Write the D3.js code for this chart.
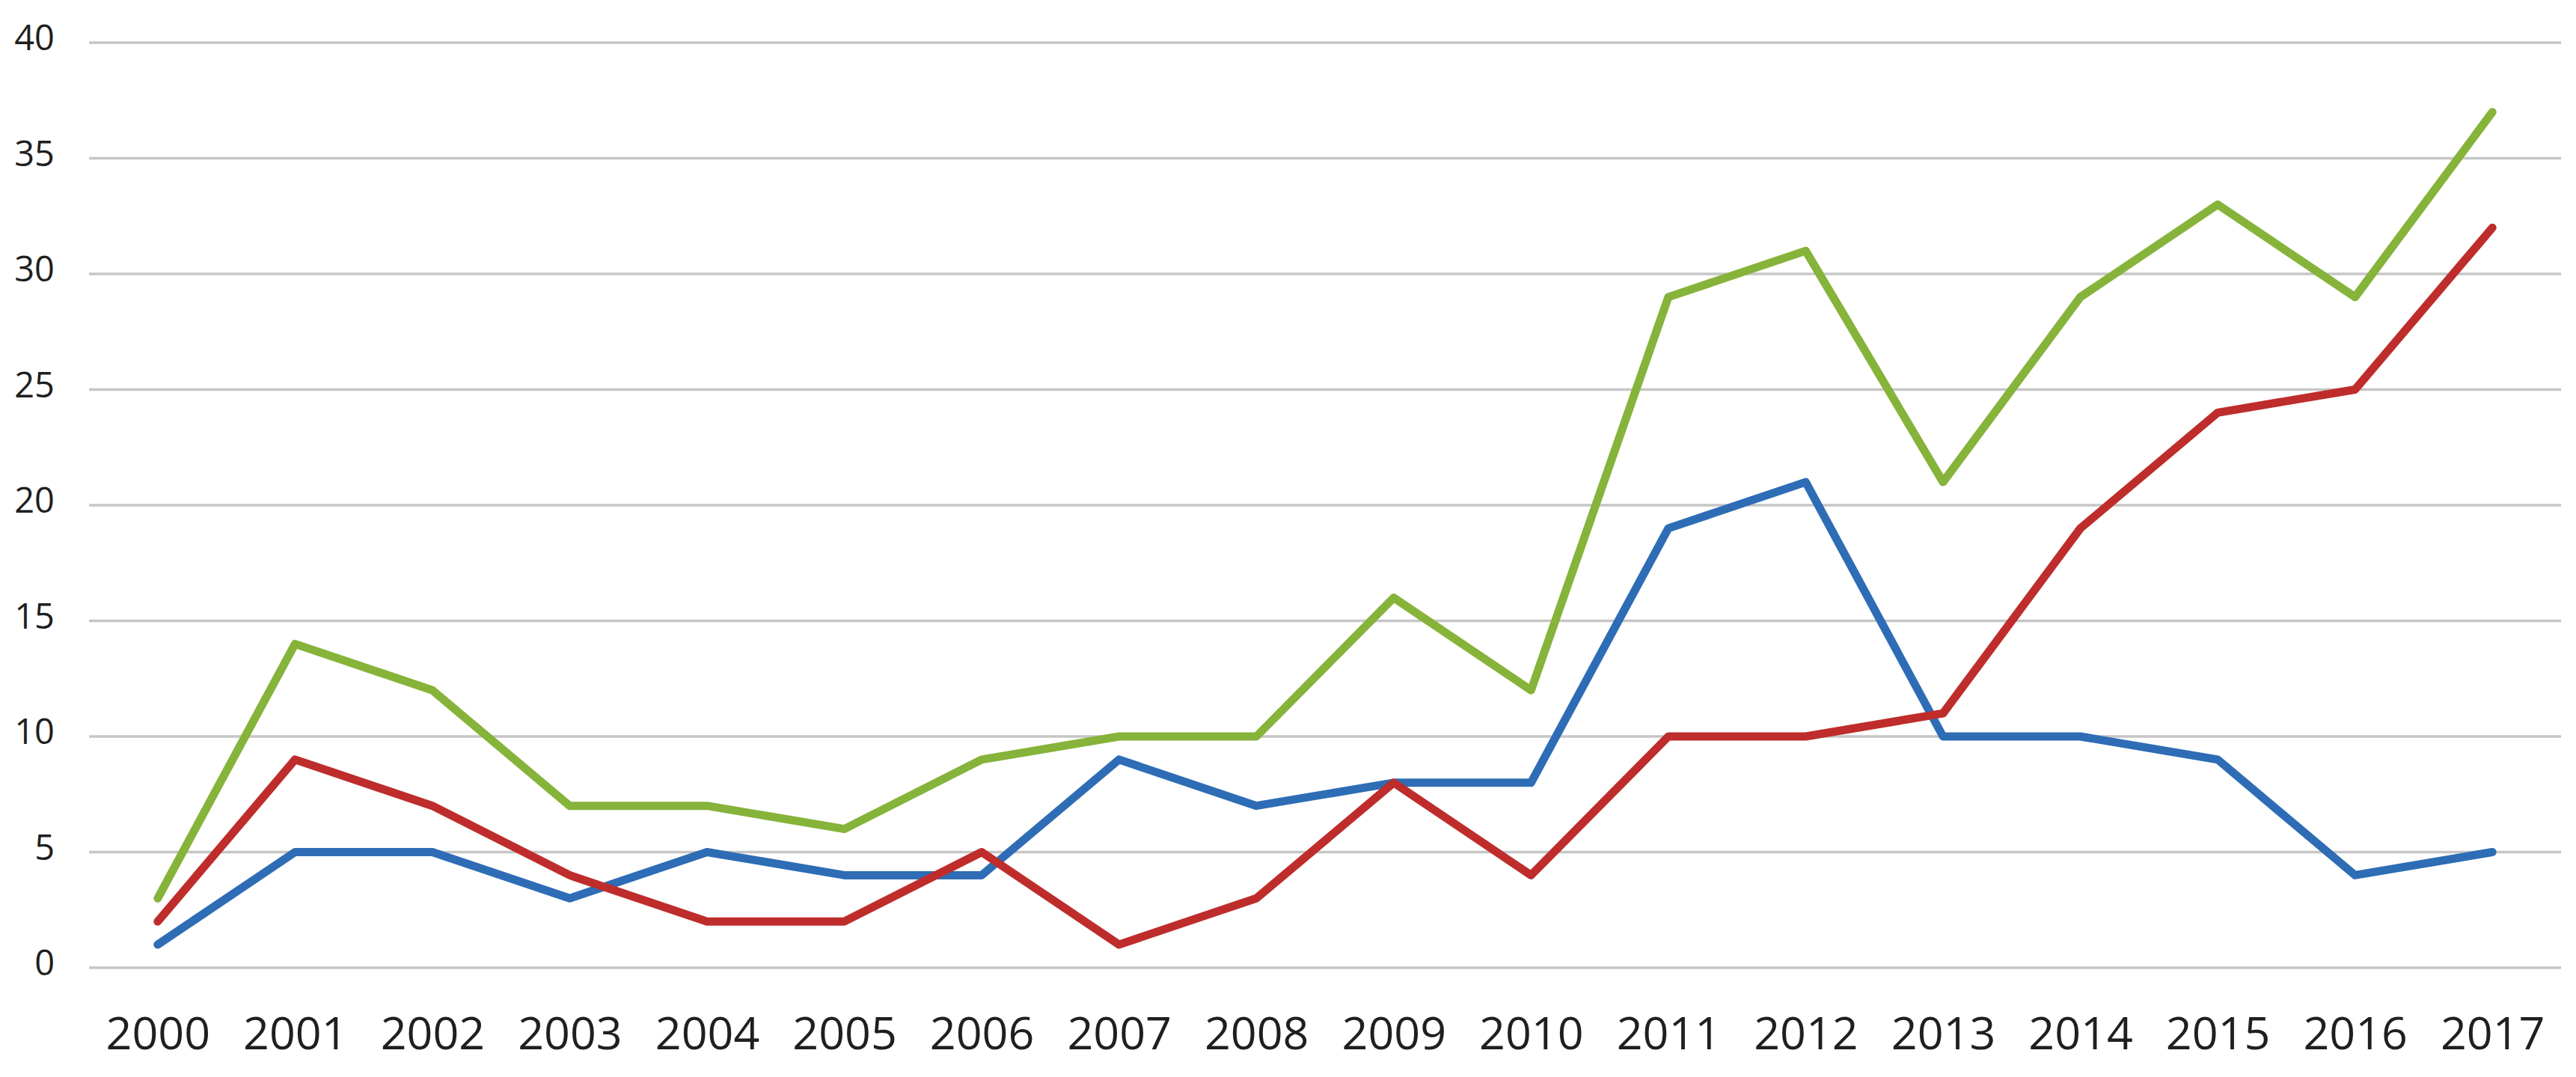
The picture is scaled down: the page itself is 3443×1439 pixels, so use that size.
<!DOCTYPE html>
<html>
<head>
<meta charset="utf-8">
<script src="https://cdn.jsdelivr.net/npm/d3@7"></script>
<style>
  html, body { margin: 0; padding: 0; background: #fff; }
  svg { display: block; }
  text { font-family: "Open Sans", "Noto Sans", sans-serif; fill: #1f1f1f; }
</style>
</head>
<body>
<svg id="chart" width="3443" height="1439"></svg>
<script>
const years = ["2000","2001","2002","2003","2004","2005","2006","2007","2008","2009","2010","2011","2012","2013","2014","2015","2016","2017"];
const blueSeries  = [1, 5, 5, 3, 5, 4, 4, 9, 7, 8, 8, 19, 21, 10, 10, 9, 4, 5];
const redSeries   = [2, 9, 7, 4, 2, 2, 5, 1, 3, 8, 4, 10, 10, 11, 19, 24, 25, 32];
const greenSeries = [3, 14, 12, 7, 7, 6, 9, 10, 10, 16, 12, 29, 31, 21, 29, 33, 29, 37];
const yTicks = [0, 5, 10, 15, 20, 25, 30, 35, 40];

(function () {
const series = [
  { name: "blue",  values: blueSeries,  color: "#2e6db5" },
  { name: "red",   values: redSeries,   color: "#be2d2b" },
  { name: "green", values: greenSeries, color: "#86b33a" }
];

const svg = d3.select("#chart");
const mLeft = 119, mRight = 3423, mTop = 57, mBottom = 1293;

const x = d3.scalePoint().domain(years).range([mLeft, mRight]).padding(0.5);
const y = d3.scaleLinear().domain([0, 40]).range([mBottom, mTop]);

// gridlines
svg.append("g")
  .selectAll("line")
  .data(yTicks)
  .join("line")
  .attr("x1", mLeft).attr("x2", mRight)
  .attr("y1", d => y(d)).attr("y2", d => y(d))
  .attr("stroke", "#c6c6c6")
  .attr("stroke-width", 3.5);

// y axis labels
const yAxis = svg.append("g")
  .attr("transform", "translate(73,0)")
  .call(d3.axisLeft(y).tickValues(yTicks).tickSize(0).tickPadding(0));
yAxis.select(".domain").remove();
yAxis.selectAll("text")
  .attr("font-size", 47)
  .attr("dy", "0.21em")
  .attr("text-anchor", "end");

// x axis labels
const xAxis = svg.append("g")
  .attr("transform", `translate(0,${mBottom})`)
  .call(d3.axisBottom(x).tickSize(0).tickPadding(0));
xAxis.select(".domain").remove();
xAxis.selectAll("text")
  .attr("font-size", 61)
  .attr("dy", null)
  .attr("y", 109);

// lines
const line = d3.line()
  .x((d, i) => x(years[i]))
  .y(d => y(d));

svg.append("g")
  .selectAll("path")
  .data(series)
  .join("path")
  .attr("d", d => line(d.values))
  .attr("fill", "none")
  .attr("stroke", d => d.color)
  .attr("stroke-width", 11)
  .attr("stroke-linejoin", "round")
  .attr("stroke-linecap", "round");
})();
</script>
</body>
</html>
